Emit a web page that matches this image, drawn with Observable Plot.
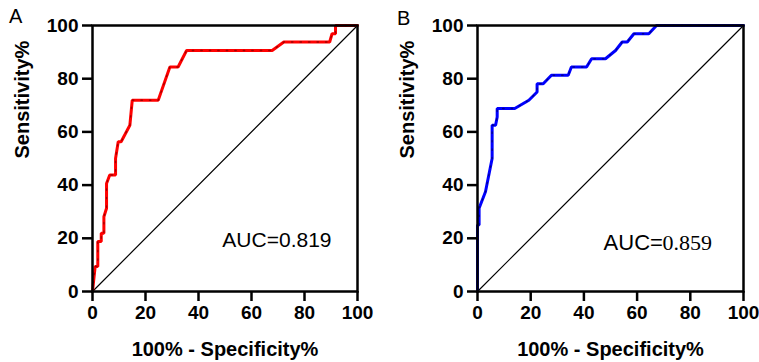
<!DOCTYPE html>
<html>
<head>
<meta charset="utf-8">
<script src="https://cdn.jsdelivr.net/npm/d3@7"></script>
<script src="https://cdn.jsdelivr.net/npm/@observablehq/plot@0.6"></script>
<style>
  html, body { margin: 0; padding: 0; background: #fff; }
  #wrap { position: relative; width: 759px; height: 362px; display: flex; }
  .panel-label { position: absolute; font-family: "Liberation Sans", Arial, sans-serif; font-size: 20px; color: #000; }
</style>
</head>
<body>
<div id="wrap">
  <div class="panel-label" style="left:9px; top:5px;">A</div>
  <div class="panel-label" style="left:397px; top:7px;">B</div>
</div>
<script>
// Panel A ROC curve (100% - Specificity%, Sensitivity%)
const rocAx = [0, 1, 2, 2, 3.3, 3.3, 4.3, 4.3, 5.3, 5.3, 6.5, 8.7, 8.7, 9.7, 10.8, 14.1, 15, 24.8, 29.2, 32.3, 35.5, 67.8, 72.2, 89.5, 90.4, 91.7, 91.7, 100];
const rocAy = [0, 9.4, 9.4, 18.8, 18.8, 21.9, 21.9, 28.1, 31.3, 40.6, 43.8, 43.8, 50, 56.3, 56.3, 62.5, 71.9, 71.9, 84.4, 84.4, 90.6, 90.6, 93.8, 93.8, 96.9, 96.9, 100, 100];
// Panel B ROC curve
const rocBx = [0, 0, 0.6, 0.6, 3, 5.5, 5.5, 6.8, 7.4, 7.4, 14, 19.3, 22.4, 22.4, 24.7, 27.8, 34.1, 35.3, 41, 42.9, 48.1, 51.9, 54.4, 56.3, 58.8, 64.4, 67.3, 100];
const rocBy = [0, 25, 25, 31.3, 37.5, 50, 62.5, 62.5, 65.6, 68.8, 68.8, 71.9, 75, 78.1, 78.1, 81.3, 81.3, 84.4, 84.4, 87.5, 87.5, 90.6, 93.8, 93.8, 96.9, 96.9, 100, 100];
// Reference line
const diagX = [0, 100];
const diagY = [0, 100];
const ticks = [0, 20, 40, 60, 80, 100];
const aucPrefix = "AUC=";
const aucValues = ["0.819", "0.859"];
const xLabel = "100% - Specificity%";
const yLabel = "Sensitivity%";

const SANS = "'Liberation Sans', Arial, sans-serif";
const SERIF = "'Liberation Serif', 'Times New Roman', serif";

function panel(xs, ys, color, dotColor, aucVal, opts) {
  const curve = xs.map((x, i) => ({x, y: ys[i]}));
  const diag = diagX.map((x, i) => ({x, y: diagY[i]}));
  const aucMarks = opts.split
    ? [
        Plot.text([aucPrefix], {x: opts.ax, y: opts.ay, text: d => d, fontSize: opts.aucSize, fontWeight: "normal", textAnchor: "start", lineAnchor: "middle", fontFamily: SANS}),
        Plot.text([aucVal], {x: opts.ax, y: opts.ay, dx: opts.splitDx, text: d => d, fontSize: opts.aucSize, fontWeight: "normal", textAnchor: "start", lineAnchor: "middle", fontFamily: SERIF})
      ]
    : [
        Plot.text([aucPrefix + aucVal], {x: opts.ax, y: opts.ay, text: d => d, fontSize: opts.aucSize, fontWeight: "normal", textAnchor: "start", lineAnchor: "middle", fontFamily: SANS})
      ];
  return Plot.plot({
    width: opts.width,
    height: 362,
    marginLeft: opts.ml,
    marginRight: opts.mr,
    marginTop: 25,
    marginBottom: 71,
    x: {domain: [0, 100]},
    y: {domain: [0, 100]},
    style: {fontFamily: SANS, fontSize: "19px", fontWeight: "bold", color: "#000", background: "#fff"},
    marks: [
      Plot.line(diag, {x: "x", y: "y", stroke: "#000", strokeWidth: 1.2}),
      Plot.line(curve, {x: "x", y: "y", stroke: color, strokeWidth: 3, strokeLinejoin: "miter"}),
      Plot.line(curve, {x: "x", y: "y", stroke: dotColor, strokeWidth: 1.3, strokeDasharray: "1.5,7", strokeOpacity: 0.55}),
      Plot.frame({stroke: "#000", strokeWidth: 2.5}),
      Plot.axisX({ticks, tickSize: 10, tickPadding: 4, strokeWidth: 2.5, label: null, fontSize: 19, fontWeight: "bold"}),
      Plot.axisY({ticks, tickSize: 10, tickPadding: 4, strokeWidth: 2.5, label: null, fontSize: 19, fontWeight: "bold"}),
      Plot.text([xLabel], {frameAnchor: "bottom", dy: 58, text: d => d, fontSize: 20, fontWeight: "bold", lineAnchor: "middle"}),
      Plot.text([yLabel], {frameAnchor: "left", dx: -70, rotate: -90, text: d => d, fontSize: 20, fontWeight: "bold", lineAnchor: "middle"}),
      ...aucMarks
    ]
  });
}

const wrap = document.getElementById("wrap");
wrap.appendChild(panel(rocAx, rocAy, "#ff0000", "#500000", aucValues[0], {width: 379, ml: 92, mr: 22, ax: 49, ay: 19.2, aucSize: 21, split: false}));
wrap.appendChild(panel(rocBx, rocBy, "#0000ff", "#000030", aucValues[1], {width: 380, ml: 98, mr: 16, ax: 47.4, ay: 18.4, aucSize: 22, split: true, splitDx: 59}));
</script>
</body>
</html>
